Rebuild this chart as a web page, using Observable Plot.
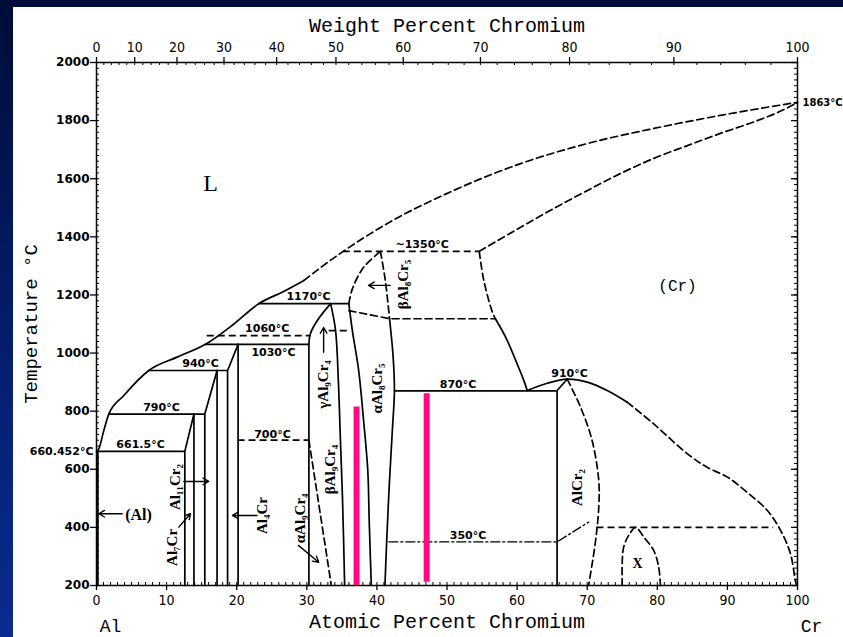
<!DOCTYPE html>
<html><head><meta charset="utf-8">
<script src="https://cdn.jsdelivr.net/npm/d3@7"></script>
<script src="https://cdn.jsdelivr.net/npm/@observablehq/plot@0.6"></script>
<style>
html,body{margin:0;padding:0;width:843px;height:637px;overflow:hidden;}
body{position:relative;background:linear-gradient(to bottom,#000c38 0%,#031b66 45%,#0a2c90 100%);}
#panel{position:absolute;left:13px;top:7px;width:830px;height:630px;background:#fff;}
#chart{position:absolute;left:0;top:0;}
</style></head>
<body><div id="panel"></div><div id="chart"></div>
<script>
// ---------- axis ticks ----------
const atTicks = [0,10,20,30,40,50,60,70,80,90,100];
const tempTicks = [200,400,600,800,1000,1200,1400,1600,1800,2000];
const wtTickLabels = ["0","10","20","30","40","50","60","70","80","90","100"];
const wtTickAt = [0,5.45,11.48,18.19,25.70,34.16,43.76,54.77,67.48,82.36,100];

// ---------- phase boundaries [at.% Cr, °C] ----------
const liquidusSolid = [[0,660.452],[0.33,670],[1.04,733],[1.75,790],[3.9,854],[7.46,940],[11.5,986],[15.55,1030],[19.6,1100],[23.15,1170],[26.7,1212],[29.6,1250]];
const liquidusDashed = [[29.6,1250],[32.4,1302],[35.2,1350],[41.5,1446],[50.9,1559],[60.5,1652],[70.0,1721],[79.5,1773],[89.0,1818],[100,1863]];
const crSolidusDashed = [[54.6,1350],[60.5,1433],[65.2,1497],[70.0,1559],[74.75,1618],[79.5,1670],[84.3,1714],[89.0,1756],[93.7,1795],[97.0,1826],[100,1862]];
const gammaLeftCurve = [[30.3,1030],[30.5,1066],[31.5,1112],[33.4,1170]];
const gammaRight = [[33.4,1170],[34.1,1078],[34.5,905],[34.8,699],[35.1,493],[35.4,200]];
const alpha85Left = [[36.0,1170],[36.5,1077],[37.4,940],[38.1,768],[38.7,596],[38.9,424],[39.2,200]];
const alpha85Right = [[41.8,1119],[42.3,992],[42.5,871],[42.2,733],[41.8,561],[41.4,355],[41.15,200]];
const beta85LeftDashed = [[36.0,1170],[36.5,1221],[38.1,1295],[40.5,1350]];
const beta85RightDashed = [[40.5,1350],[41.2,1250],[41.8,1119]];
const crBoundaryDashed = [[54.6,1350],[55.25,1250],[56.4,1146],[56.9,1118]];
const crBoundarySolid = [[56.9,1118],[58.6,1043],[60.0,963],[60.95,906],[61.45,871]];
const dome910 = [[61.45,871],[64.3,896],[67.15,910],[70.0,900],[72.85,871],[75.7,831]];
const crSolvusDashed = [[75.7,831],[79.5,756],[84.3,653],[87.1,607],[90.0,573],[92.8,521],[95.7,458],[97.6,389],[99.0,309],[99.6,230],[99.8,205]];
const alcr2RightDashed = [[67.15,910],[69.05,814],[70.7,699],[71.65,561],[71.65,470],[71.2,355],[70.2,200]];
const xPhaseDashed = [[75.0,200],[75.2,332],[76.2,383],[76.9,400],[78.1,366],[79.5,320],[80.2,263],[80.45,200]];

const alEdge = [[0.2,200],[0.2,660.452]];
const al7Cr = [[12.6,200],[12.6,661.5],[13.9,790]];
const al11Cr2Left = [[13.9,200],[13.9,790]];
const al11Cr2Right = [[15.45,200],[15.45,790],[17.2,940]];
const al4CrLeft = [[17.2,200],[17.2,940]];
const al4CrMid = [[18.7,200],[18.7,940],[20.2,1030]];
const al4CrRight = [[20.2,200],[20.2,1030]];
const gammaLeftVertical = [[30.3,200],[30.3,1030]];
const alcr2Left = [[65.7,200],[65.7,871],[67.15,910]];

const shelf1120 = [[36.0,1146],[41.9,1118],[56.9,1118]];
const alpha94Dashed = [[30.3,700],[33.5,200]];
const eutectoid350 = [[41.7,350],[65.7,350],[70.2,418]];

const isoSolid = [
  {t:661.5,x1:0.3,x2:12.6},{t:790,x1:1.75,x2:15.45},{t:940,x1:7.46,x2:18.7},
  {t:1030,x1:15.55,x2:30.3},{t:1170,x1:23.15,x2:36.0},{t:870,x1:42.5,x2:65.7}];
const isoDashed = [
  {t:1060,x1:15.8,x2:30.45},{t:1077,x1:33.2,x2:36.3},{t:700,x1:20.2,x2:30.3},
  {t:1350,x1:35.2,x2:54.6},{t:400,x1:71.4,x2:96.6}];

// ---------- labels ----------
const tempLabels = [
  {x:30.25,t:1195,label:"1170°C"},{x:24.35,t:1083,label:"1060°C"},{x:25.25,t:1003,label:"1030°C"},
  {x:14.84,t:965,label:"940°C"},{x:9.27,t:814,label:"790°C"},{x:6.28,t:684,label:"661.5°C"},
  {x:25.1,t:720,label:"700°C"},{x:46.46,t:1373,label:"~1350°C"},{x:51.57,t:892,label:"870°C"},
  {x:67.48,t:929,label:"910°C"},{x:53.0,t:372,label:"350°C"}];
const phaseLabels = [
  {x:11.27,t:539,label:"Al₁₁Cr₂"},{x:10.8,t:331,label:"Al₇Cr"},{x:23.64,t:441,label:"Al₄Cr"},
  {x:29.1,t:431,label:"αAl₉Cr₄"},{x:33.4,t:599,label:"βAl₉Cr₄"},{x:32.4,t:892,label:"γAl₉Cr₄"},
  {x:40.1,t:878,label:"αAl₈Cr₅"},{x:43.8,t:1236,label:"βAl₈Cr₅"},{x:68.6,t:537,label:"AlCr₂"}];
const arrows = [
  {x1:3.67,t1:447,x2:0.33,t2:447},{x1:12.45,t1:558,x2:16.0,t2:558},{x1:11.74,t1:401,x2:13.4,t2:447},
  {x1:22.9,t1:441,x2:19.4,t2:441},{x1:28.8,t1:338,x2:31.7,t2:280},{x1:32.4,t1:1003,x2:32.4,t2:1088},
  {x1:41.9,t1:1233,x2:38.8,t2:1233}];
const pinkBars = [{x:37.1,top:814,bottom:200},{x:47.1,top:860,bottom:211}];

// ---------- layout ----------
const W=843,H=637,mL=96,mR=46,mT=62,mB=52;
const fW=W-mL-mR, fH=H-mT-mB;
const toRows = groups => groups.flatMap((arr,g)=>arr.map(([x,t])=>({x,t,g})));
const solid = {stroke:"#000",strokeWidth:1.7,strokeLinejoin:"round"};
const dashed = {...solid,strokeDasharray:"7,4"};
const wtToAt = w => {const a=w/52.00,b=(100-w)/26.98;return 100*a/(a+b);};
const minorAt = d3.range(0,101,1);
const minorWt = d3.range(0,101,2).map(wtToAt);
const minorT = d3.range(200,2001,20);
const mono = "Liberation Mono, DejaVu Sans Mono, monospace";
const boldSans = "DejaVu Sans, sans-serif";
const narrow = "Liberation Sans Narrow, DejaVu Sans Condensed, sans-serif";
const serif = "Liberation Serif, DejaVu Serif, serif";

const chart = Plot.plot({
  width:W,height:H,marginLeft:mL,marginRight:mR,marginTop:mT,marginBottom:mB,
  style:{background:"transparent"},
  x:{domain:[0,100],axis:null},
  y:{domain:[200,2000],axis:null},
  marks:[
    // boundaries
    Plot.line(toRows([liquidusSolid,crBoundarySolid]),{x:"x",y:"t",z:"g",curve:"monotone-x",...solid}),
    Plot.line(toRows([gammaLeftCurve,gammaRight,alpha85Left,alpha85Right,dome910]),{x:"x",y:"t",z:"g",curve:"catmull-rom",...solid}),
    Plot.line(toRows([alEdge,al7Cr,al11Cr2Left,al11Cr2Right,al4CrLeft,al4CrMid,al4CrRight,gammaLeftVertical,alcr2Left]),{x:"x",y:"t",z:"g",...solid}),
    Plot.line(toRows([liquidusDashed,crSolidusDashed]),{x:"x",y:"t",z:"g",curve:"monotone-x",...dashed}),
    Plot.line(toRows([beta85LeftDashed,beta85RightDashed,crBoundaryDashed,crSolvusDashed,alcr2RightDashed,xPhaseDashed]),{x:"x",y:"t",z:"g",curve:"catmull-rom",...dashed}),
    Plot.line(toRows([shelf1120,alpha94Dashed]),{x:"x",y:"t",z:"g",...dashed}),
    Plot.line(toRows([eutectoid350]),{x:"x",y:"t",z:"g",...solid,strokeWidth:1.4,strokeDasharray:"9,3,2,3"}),
    Plot.ruleY(isoSolid,{y:"t",x1:"x1",x2:"x2",...solid}),
    Plot.ruleY(isoDashed,{y:"t",x1:"x1",x2:"x2",...dashed}),
    // frame & ticks
    Plot.frame({stroke:"#000",strokeWidth:1.5}),
    Plot.tickX(atTicks,{x:d=>d,insetTop:fH,insetBottom:-5,stroke:"#000",strokeWidth:1.3}),
    Plot.tickX(minorAt,{x:d=>d,insetTop:fH-3,stroke:"#000",strokeWidth:1}),
    Plot.tickX(wtTickAt,{x:d=>d,insetBottom:fH,insetTop:-5,stroke:"#000",strokeWidth:1.3}),
    Plot.tickX(minorWt,{x:d=>d,insetBottom:fH-3,stroke:"#000",strokeWidth:1}),
    Plot.tickY(tempTicks,{y:d=>d,insetRight:fW,insetLeft:-6,stroke:"#000",strokeWidth:1.3}),
    Plot.tickY(minorT,{y:d=>d,insetRight:fW-3,stroke:"#000",strokeWidth:1}),
    Plot.tickY(minorT,{y:d=>d,insetLeft:fW-3,stroke:"#000",strokeWidth:1}),
    Plot.tickY(tempTicks,{y:d=>d,insetLeft:fW-6,stroke:"#000",strokeWidth:1.3}),
    // tick labels
    Plot.text(atTicks,{x:d=>d,text:d=>String(d),frameAnchor:"bottom",lineAnchor:"middle",dy:15,fontSize:14,fontFamily:narrow,fill:"#000"}),
    Plot.text(wtTickAt,{x:d=>d,text:(d,i)=>wtTickLabels[i],frameAnchor:"top",lineAnchor:"middle",dy:-15,fontSize:14,fontFamily:narrow,fill:"#000"}),
    Plot.text(tempTicks,{y:d=>d,text:d=>String(d),frameAnchor:"left",lineAnchor:"middle",dx:-7,textAnchor:"end",fontSize:12,fontWeight:"bold",fontFamily:boldSans,fill:"#000"}),
    // axis titles
    Plot.text(["Weight Percent Chromium"],{frameAnchor:"top",lineAnchor:"middle",textAnchor:"middle",dy:-37,fontSize:20,fontFamily:mono,fill:"#000"}),
    Plot.text(["Atomic Percent Chromium"],{frameAnchor:"bottom",lineAnchor:"middle",textAnchor:"middle",dy:36,fontSize:20,fontFamily:mono,fill:"#000"}),
    Plot.text(["Temperature °C"],{frameAnchor:"left",lineAnchor:"middle",textAnchor:"middle",dx:-66,rotate:-90,fontSize:19,fontFamily:mono,fill:"#000"}),
    Plot.text([{x:0,label:"Al"},{x:100,label:"Cr"}],{x:"x",text:"label",frameAnchor:"bottom",lineAnchor:"middle",dy:41,dx:14,fontSize:18,fontFamily:mono,fill:"#000"}),
    // annotations
    Plot.text(tempLabels,{x:"x",y:"t",text:"label",fontSize:11,fontWeight:"bold",fontFamily:boldSans,fill:"#000"}),
    Plot.text([{x:0,t:660.452,label:"660.452°C"}],{x:"x",y:"t",text:"label",dx:-3,textAnchor:"end",fontSize:11,fontWeight:"bold",fontFamily:boldSans,fill:"#000"}),
    Plot.text([{x:100,t:1863,label:"1863°C"}],{x:"x",y:"t",text:"label",dx:5,textAnchor:"start",fontSize:10,fontWeight:"bold",fontFamily:boldSans,fill:"#000"}),
    Plot.text(phaseLabels,{x:"x",y:"t",text:"label",rotate:-90,fontSize:15,fontWeight:"bold",fontFamily:serif,fill:"#000"}),
    Plot.text([{x:16.26,t:1584,label:"L"}],{x:"x",y:"t",text:"label",fontSize:24,fontFamily:serif,fill:"#000"}),
    Plot.text([{x:82.88,t:1232,label:"(Cr)"}],{x:"x",y:"t",text:"label",fontSize:16,fontFamily:mono,fill:"#000"}),
    Plot.text([{x:6.0,t:444,label:"(Al)"}],{x:"x",y:"t",text:"label",fontSize:16,fontWeight:"bold",fontFamily:serif,fill:"#000"}),
    Plot.text([{x:77.2,t:276,label:"X"}],{x:"x",y:"t",text:"label",fontSize:14,fontWeight:"bold",fontFamily:serif,fill:"#000"}),
    Plot.arrow(arrows,{x1:"x1",y1:"t1",x2:"x2",y2:"t2",stroke:"#000",strokeWidth:1.4,headLength:7}),
    // highlight bars
    Plot.ruleX(pinkBars,{x:"x",y1:"bottom",y2:"top",stroke:"#ff0a80",strokeWidth:6})
  ]
});
document.getElementById("chart").appendChild(chart);
</script></body></html>
